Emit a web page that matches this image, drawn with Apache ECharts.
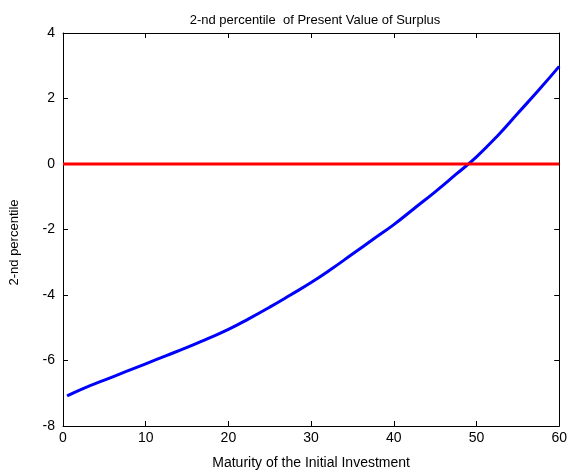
<!DOCTYPE html>
<html>
<head>
<meta charset="utf-8">
<script src="https://cdn.jsdelivr.net/npm/echarts@6/dist/echarts.min.js"></script>
<style>html,body{margin:0;padding:0;background:#fff;}#c{width:570px;height:475px;}</style>
</head>
<body>
<div id="c"></div>
<script>
var maturity = [0.5, 2.5, 5, 7.5, 10, 12.5, 15, 17.5, 20, 22.5, 25, 27.5, 30, 32.5, 35, 37.5, 40, 42.5, 45, 47.5, 50, 52.5, 55, 57.5, 60];
var percentile2 = [-7.08, -6.85, -6.6, -6.35, -6.1, -5.85, -5.6, -5.33, -5.05, -4.72, -4.37, -4.0, -3.62, -3.2, -2.75, -2.3, -1.85, -1.35, -0.85, -0.32, 0.22, 0.85, 1.55, 2.25, 2.98];
var zeroX = [0, 60];
var zeroY = [0, 0];

var font = 'Liberation Sans, Arial, sans-serif';
var chart = echarts.init(document.getElementById('c'));
var axisBase = {
  axisLine: {show: true, onZero: false, lineStyle: {color: '#000', width: 1}},
  axisTick: {show: true, inside: true, length: 5, lineStyle: {color: '#000'}},
  splitLine: {show: false}
};
chart.setOption({
  animation: false,
  backgroundColor: '#fff',
  title: {
    text: '2-nd percentile  of Present Value of Surplus',
    left: 310, top: 9, textAlign: 'center',
    textStyle: {fontFamily: font, fontSize: 13, fontWeight: 'normal', color: '#000'}
  },
  grid: {left: 60, right: 9, top: 33, bottom: 47},
  xAxis: [
    Object.assign({
      type: 'value', min: 0, max: 60, interval: 10, position: 'bottom',
      name: 'Maturity of the Initial Investment', nameLocation: 'middle', nameGap: 30,
      nameTextStyle: {fontFamily: font, fontSize: 14, color: '#000'},
      axisLabel: {fontFamily: font, fontSize: 14, color: '#000', margin: 5}
    }, axisBase),
    Object.assign({
      type: 'value', min: 0, max: 60, interval: 10, position: 'top',
      axisLabel: {show: false}
    }, axisBase)
  ],
  yAxis: [
    Object.assign({
      type: 'value', min: -8, max: 4, interval: 2, position: 'left',
      name: '2-nd percentile', nameLocation: 'middle', nameGap: 42, nameRotate: 90,
      nameTextStyle: {fontFamily: font, fontSize: 13, color: '#000', padding: [0, 26, 0, 0]},
      axisLabel: {fontFamily: font, fontSize: 14, color: '#000', margin: 8}
    }, axisBase),
    Object.assign({
      type: 'value', min: -8, max: 4, interval: 2, position: 'right',
      axisLabel: {show: false}
    }, axisBase)
  ],
  series: [
    {
      type: 'line', xAxisIndex: 0, yAxisIndex: 0, showSymbol: false, smooth: true,
      data: maturity.map(function (m, i) { return [m, percentile2[i]]; }),
      lineStyle: {color: '#0000ff', width: 3}, itemStyle: {color: '#0000ff'}
    },
    {
      type: 'line', xAxisIndex: 0, yAxisIndex: 0, showSymbol: false,
      data: zeroX.map(function (m, i) { return [m, zeroY[i]]; }),
      lineStyle: {color: '#ff0000', width: 3}, itemStyle: {color: '#ff0000'}
    }
  ]
});
</script>
</body>
</html>
